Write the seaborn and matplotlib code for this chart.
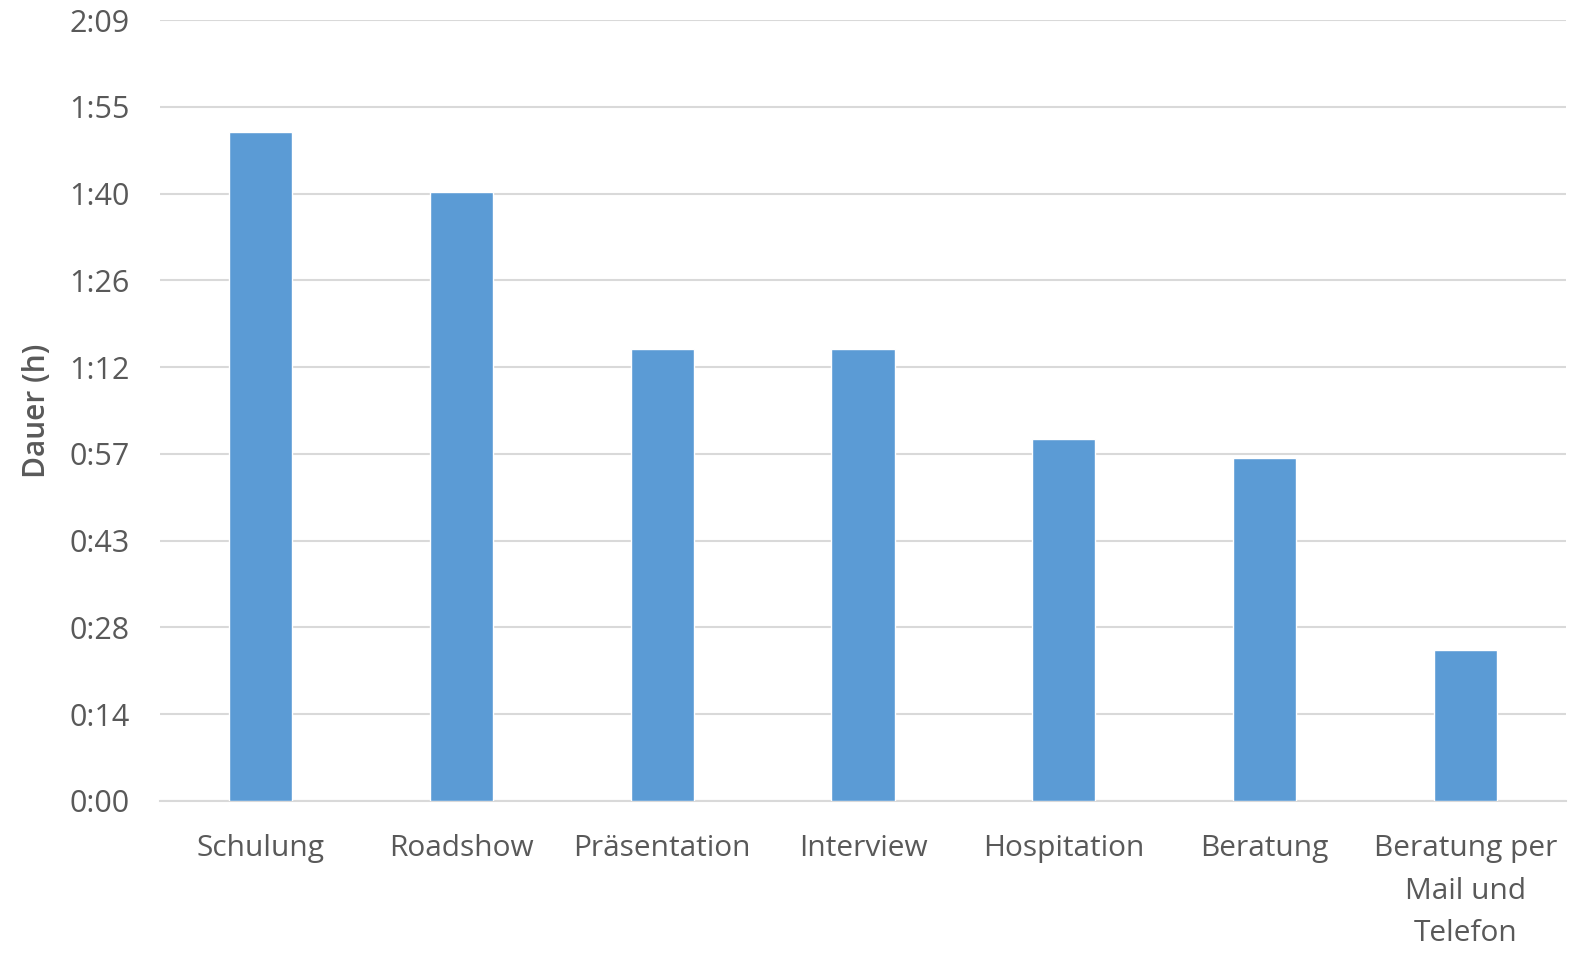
import matplotlib
matplotlib.use("Agg")
import matplotlib.pyplot as plt
import seaborn as sns
import pandas as pd

categories = ["Schulung", "Roadshow", "Präsentation", "Interview", "Hospitation",
              "Beratung", "Beratung per\nMail und\nTelefon"]
minutes = [111, 101, 75, 75, 60, 57, 25]
tick_values = [0, 14.4, 28.8, 43.2, 57.6, 72.0, 86.4, 100.8, 115.2, 129.6]
tick_labels = ["0:00", "0:14", "0:28", "0:43", "0:57", "1:12", "1:26", "1:40", "1:55", "2:09"]

sns.set_style("white")
plt.rcParams["font.family"] = ["Open Sans", "DejaVu Sans"]

df = pd.DataFrame({"cat": categories, "min": minutes})

fig = plt.figure(figsize=(15.94, 9.64), dpi=100)
ax = fig.add_axes([160/1594, 1 - 801/964, (1566-160)/1594, (801-20)/964])

sns.barplot(data=df, x="cat", y="min", color="#5B9BD5", saturation=1, width=0.315, ax=ax, zorder=3)

ax.set_ylim(0, 129.6)
ax.set_xlim(-0.5, 6.5)
ax.set_yticks(tick_values)
ax.set_yticklabels(tick_labels)
ax.yaxis.grid(True, color="#D9D9D9", linewidth=1.5, zorder=0)
ax.set_axisbelow(True)
for s in ["top", "right", "left"]:
    ax.spines[s].set_visible(False)
ax.spines["bottom"].set_color("#D9D9D9")
ax.spines["bottom"].set_linewidth(1.5)

ax.tick_params(axis="y", length=0, pad=22, labelsize=22, labelcolor="#595959")
ax.tick_params(axis="x", length=0, pad=24, labelsize=21.5, labelcolor="#595959")
for t in ax.get_xticklabels():
    t.set_linespacing(1.6)

ax.set_xlabel("")
ax.set_ylabel("Dauer (h)", fontsize=21.5, color="#595959", fontweight="semibold", labelpad=12)

fig.savefig("out.png", dpi=100)
